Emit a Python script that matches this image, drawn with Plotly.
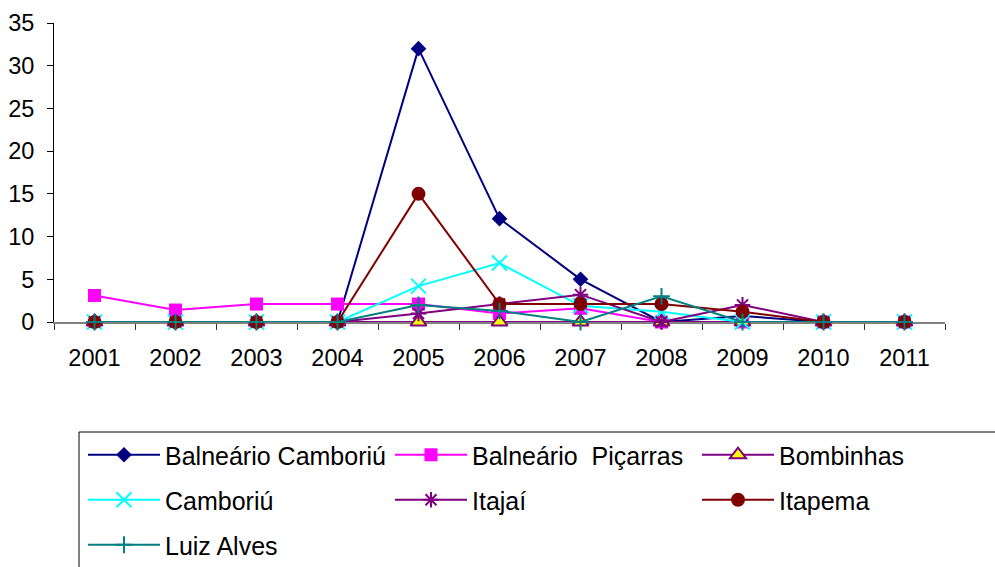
import plotly.graph_objects as go

years = ["2001", "2002", "2003", "2004", "2005", "2006", "2007", "2008", "2009", "2010", "2011"]

balneario_camboriu = [0, 0, 0, 0, 32, 12.1, 5, 0, 0.7, 0, 0]
balneario_picarras = [3.1, 1.4, 2.1, 2.1, 2.1, 1.0, 1.6, 0, 0, 0, 0]
bombinhas = [0, 0, 0, 0, 0, 0, 0, 0, 0, 0, 0]
camboriu = [0, 0, 0, 0, 4.2, 6.9, 1.9, 1.2, 0, 0, 0]
itajai = [0, 0, 0, 0, 1, 2.1, 3.2, 0, 2, 0, 0]
itapema = [0, 0, 0, 0, 15, 2.1, 2.1, 2.1, 1.2, 0, 0]
luiz_alves = [0, 0, 0, 0, 2, 1.3, 0, 3, 0, 0, 0]

FONT = "Liberation Sans, Arial, sans-serif"

series = [
    ("Balneário Camboriú", balneario_camboriu, "#000080",
     dict(symbol="diamond", size=12, color="#000080", line=dict(width=0)), "legend"),
    ("Balneário \u00a0Piçarras", balneario_picarras, "#FF00FF",
     dict(symbol="square", size=13, color="#FF00FF", line=dict(width=0)), "legend"),
    ("Bombinhas", bombinhas, "#800080",
     dict(symbol="triangle-up", size=14, color="#FFFF00", line=dict(width=2, color="#800080")), "legend"),
    ("Camboriú", camboriu, "#00FFFF",
     dict(symbol="x-thin", size=15, color="#00FFFF", line=dict(width=2, color="#00FFFF")), "legend2"),
    ("Itajaí", itajai, "#800080",
     dict(symbol="asterisk", size=13, color="#800080", line=dict(width=2, color="#800080")), "legend2"),
    ("Itapema", itapema, "#800000",
     dict(symbol="circle", size=14, color="#800000", line=dict(width=0)), "legend2"),
    ("Luiz Alves", luiz_alves, "#008080",
     dict(symbol="cross-thin", size=12, color="#008080", line=dict(width=2, color="#008080")), "legend3"),
]

fig = go.Figure()
for name, vals, col, mk, lg in series:
    fig.add_trace(go.Scatter(
        x=years, y=vals, name=name, mode="lines+markers",
        line=dict(color=col, width=2), marker=mk, legend=lg,
        cliponaxis=False,
    ))

W, H = 995, 567
L, R, T, B = 0, 50, 23, 245
GW = W - L - R
GH = H - T - B
plot_x0 = 54


def px_x(px):
    return (px - L) / GW


def px_y(py):
    return (H - B - py) / GH


legend_common = dict(
    orientation="h", xanchor="left", yanchor="top",
    font=dict(family=FONT, size=25, color="black"),
    bgcolor="rgba(0,0,0,0)", borderwidth=0,
    itemwidth=72, entrywidth=220, itemclick=False, itemdoubleclick=False,
)

fig.update_layout(
    width=W, height=H,
    margin=dict(l=L, r=R, t=T, b=B, autoexpand=False),
    template="none",
    plot_bgcolor="white", paper_bgcolor="white",
    font=dict(family=FONT, size=23.5, color="black"),
    showlegend=True,
    xaxis=dict(
        type="category", domain=[(plot_x0 - L) / GW, 1],
        range=[-0.5, len(years) - 0.5], fixedrange=True,
        showline=True, linecolor="#808080", linewidth=1.5, layer="below traces",
        ticks="outside", tickson="boundaries", ticklen=6, tickcolor="#303030", tickwidth=1,
        showgrid=False, zeroline=False, automargin=False,
        tickfont=dict(family=FONT, size=23.5, color="black"),
        ticklabelstandoff=14,
    ),
    yaxis=dict(
        range=[0, 35], dtick=5, tick0=0, fixedrange=True,
        showline=True, linecolor="black", linewidth=1, layer="below traces",
        ticks="outside", ticklen=6, tickcolor="black",
        showgrid=False, zeroline=False, automargin=False,
        tickfont=dict(family=FONT, size=23.5, color="black"),
        ticklabelstandoff=8,
    ),
    legend=dict(x=px_x(83), y=px_y(432), **legend_common),
    legend2=dict(x=px_x(83), y=px_y(477), **legend_common),
    legend3=dict(x=px_x(83), y=px_y(522), **legend_common),
    shapes=[dict(
        type="rect", xref="paper", yref="paper",
        x0=px_x(79), x1=px_x(1005), y0=px_y(432), y1=px_y(590),
        line=dict(color="black", width=1), fillcolor="rgba(0,0,0,0)", layer="below",
    )],
)

fig.write_html(
    "out.html",
    config={"displayModeBar": False},
    post_script="document.body.style.margin='0';document.body.style.padding='0';",
)
